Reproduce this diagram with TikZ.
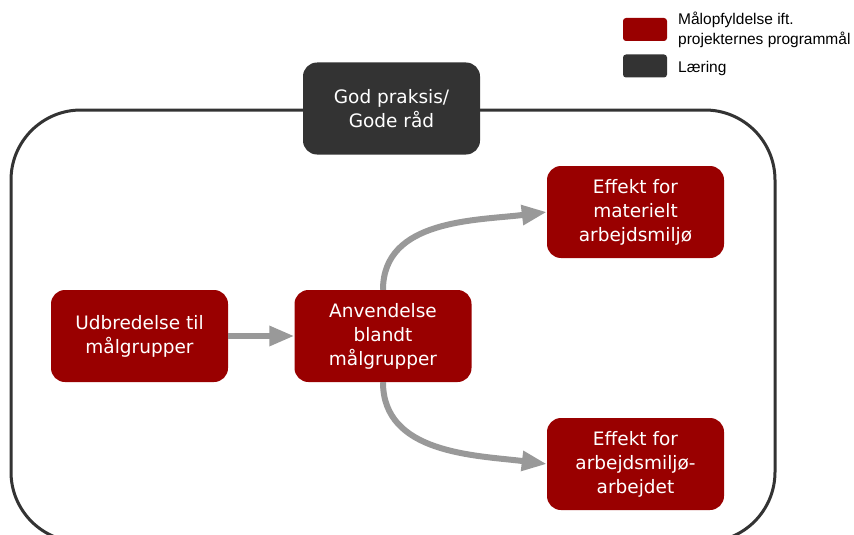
\documentclass[tikz,border=0pt]{standalone}
\usepackage{fontspec}
\setmainfont{DejaVu Sans}
\newfontfamily\legendfont{Liberation Sans}
\usetikzlibrary{arrows.meta}
\definecolor{darkred}{HTML}{990000}
\definecolor{darkgr}{HTML}{333333}
\definecolor{arrgray}{HTML}{999999}
\tikzset{
  redbox/.style={fill=darkred, rounded corners=14pt, minimum width=177pt, minimum height=92pt, text=white, align=center, font=\fontsize{18.5}{24}\selectfont, inner sep=0pt},
  graybox/.style={redbox, fill=darkgr},
  legbox/.style={rounded corners=3pt, minimum width=44pt, minimum height=23pt, inner sep=0pt},
  legtext/.style={anchor=west, align=left, font=\legendfont\fontsize{15.5}{20}\selectfont, inner sep=0pt},
  conn/.style={draw=arrgray, line width=6pt, -{Triangle[length=25pt,width=19pt]}}
}
\begin{document}
\begin{tikzpicture}[x=1pt,y=-1pt]
\useasboundingbox (0,0) rectangle (854,535);
\clip (0,0) rectangle (854,535);
\fill[white] (0,0) rectangle (854,535);
% frame
\draw[darkgr, line width=3pt, rounded corners=70pt] (11,110) rectangle (775,542);
% nodes
\node[graybox] (god) at (391.5,108.5) {God praksis/\\Gode råd};
\node[redbox] (udb) at (139.5,336) {Udbredelse til\\målgrupper};
\node[redbox] (anv) at (383,336) {Anvendelse\\blandt\\målgrupper};
\node[redbox] (eff1) at (635.5,212) {Effekt for\\materielt\\arbejdsmiljø};
\node[redbox] (eff2) at (635.5,464) {Effekt for\\arbejdsmiljø-\\arbejdet};
% connectors
\draw[conn] (udb.east) -- (anv.west);
\draw[conn] (anv.north) to[out=90, in=187] (eff1.west);
\draw[conn] (anv.south) to[out=-90, in=173] (eff2.west);
% legend
\node[legbox, fill=darkred] (leg1) at (645,29.5) {};
\node[legbox, fill=darkgr] (leg2) at (645,66) {};
\node[legtext] (legt1) at (678,29.5) {Målopfyldelse ift.\\projekternes programmål};
\node[legtext] (legt2) at (678,68) {Læring};
\end{tikzpicture}
\end{document}
